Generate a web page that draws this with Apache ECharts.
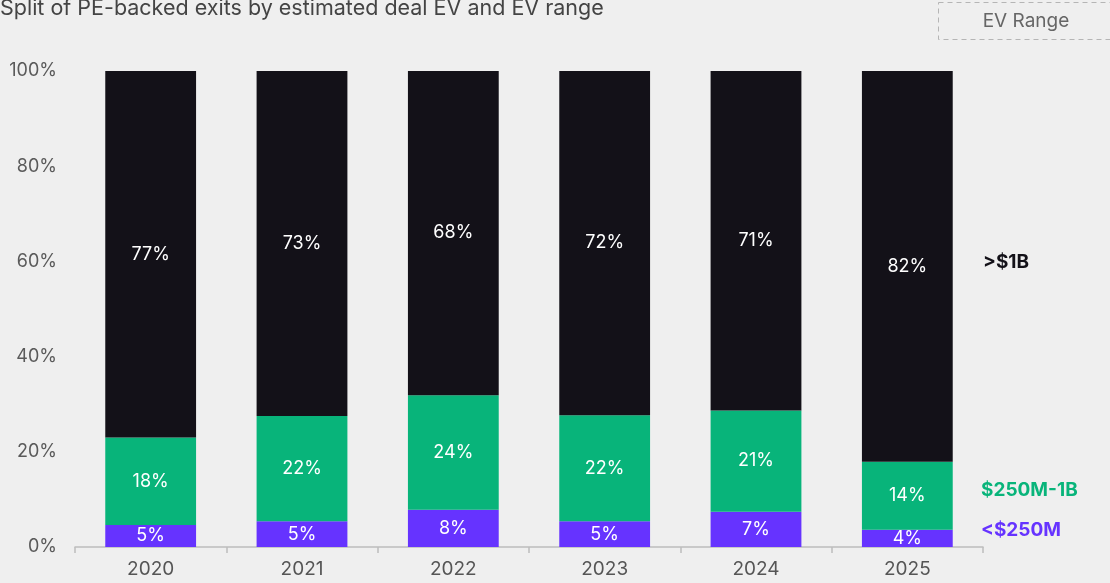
<!DOCTYPE html>
<html>
<head>
<meta charset="utf-8">
<script src="https://cdn.jsdelivr.net/npm/echarts@6/dist/echarts.min.js"></script>
<style>
  html, body { margin: 0; padding: 0; background: #efefef; }
  #chart { width: 1110px; height: 583px; }
</style>
</head>
<body>
<div id="chart"></div>
<script>
// Years on the x axis
const years = ['2020', '2021', '2022', '2023', '2024', '2025'];
// Share of exits (%) by EV range, bottom to top
const under250M = [4.6, 5.4, 7.8, 5.4, 7.4, 3.6];
const from250Mto1B = [18.4, 22.1, 24.1, 22.3, 21.3, 14.3];
const over1B = [77.0, 72.5, 68.1, 72.3, 71.3, 82.1];
// Y axis ticks
const yTicks = [0, 20, 40, 60, 80, 100];

const FONT = 'Inter, "Noto Sans", sans-serif';
const COLORS = { low: '#6633ff', mid: '#08b47a', high: '#131118' };

function seg(name, data, color) {
  return {
    name, type: 'bar', stack: 'ev', data, barWidth: '60%',
    itemStyle: { color },
    label: {
      show: true, position: 'inside', color: '#ffffff',
      fontFamily: FONT, fontSize: 18,
      formatter: p => Math.round(p.value) + '%'
    }
  };
}

const chart = echarts.init(document.getElementById('chart'), null, { renderer: 'canvas' });
chart.setOption({
  backgroundColor: '#efefef',
  animation: false,
  grid: { left: 75, right: 127, top: 71, bottom: 36 },
  xAxis: {
    type: 'category', data: years,
    axisLine: { lineStyle: { color: '#bdbdbd', width: 1.5 } },
    axisTick: { show: true, length: 6, lineStyle: { color: '#bdbdbd', width: 1.5 } },
    axisLabel: { color: '#555', fontFamily: FONT, fontSize: 19, margin: 13 }
  },
  yAxis: {
    type: 'value', min: yTicks[0], max: yTicks[yTicks.length - 1], interval: 20,
    axisLine: { show: false }, axisTick: { show: false }, splitLine: { show: false },
    axisLabel: { color: '#5a5a5a', fontFamily: FONT, fontSize: 18, margin: 18, formatter: v => v + '%' }
  },
  series: [
    seg('<$250M', under250M, COLORS.low),
    seg('$250M-1B', from250Mto1B, COLORS.mid),
    seg('>$1B', over1B, COLORS.high)
  ],
  graphic: [
    { type: 'text', left: 0, top: -2,
      style: { text: 'Split of PE-backed exits by estimated deal EV and EV range', fill: '#444', font: '21.5px ' + FONT } },
    { type: 'rect', shape: { x: 938.5, y: 2.5, width: 180, height: 37 },
      style: { fill: 'none', stroke: '#b5b5b5', lineWidth: 1, lineDash: [5, 4] } },
    { type: 'text', x: 1026, y: 21,
      style: { text: 'EV Range', fill: '#666', font: '19px ' + FONT, align: 'center', verticalAlign: 'middle' } },
    { type: 'text', x: 983, y: 262,
      style: { text: '>$1B', fill: COLORS.high, font: 'bold 19px ' + FONT, verticalAlign: 'middle' } },
    { type: 'text', x: 981, y: 490,
      style: { text: '$250M-1B', fill: COLORS.mid, font: 'bold 19px ' + FONT, verticalAlign: 'middle' } },
    { type: 'text', x: 981, y: 530,
      style: { text: '<$250M', fill: COLORS.low, font: 'bold 19px ' + FONT, verticalAlign: 'middle' } }
  ]
});
</script>
</body>
</html>
